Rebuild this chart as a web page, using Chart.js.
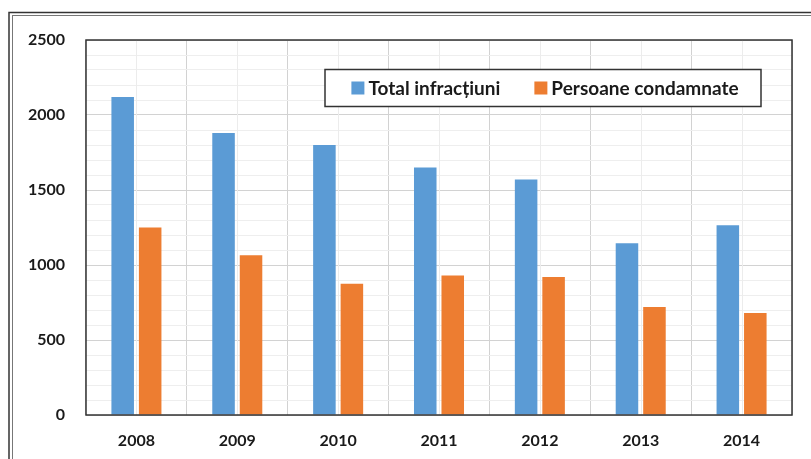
<!DOCTYPE html>
<html>
<head>
<meta charset="utf-8">
<script src="https://cdn.jsdelivr.net/npm/chart.js@4.4.0/dist/chart.umd.min.js"></script>
<style>
  body { margin: 0; background: #fff; }
  #wrap { width: 811px; height: 459px; }
</style>
</head>
<body>
<div id="wrap"><canvas id="myChart" width="811" height="459"></canvas></div>
<script>
var years = ['2008', '2009', '2010', '2011', '2012', '2013', '2014'];
var totalInfractiuni = [2120, 1880, 1800, 1650, 1570, 1145, 1265];
var persoaneCondamnate = [1250, 1065, 875, 930, 920, 720, 680];
var yTicks = [0, 500, 1000, 1500, 2000, 2500];

var FONT = 'Lato, "Open Sans", sans-serif';

// frame, centre lines, plot border and boxed legend
var decor = {
  id: 'decor',
  beforeDatasetsDraw: function (chart) {
    var ctx = chart.ctx, a = chart.chartArea, x = chart.scales.x;
    ctx.save();
    ctx.strokeStyle = '#ececec';
    ctx.lineWidth = 1;
    for (var i = 0; i < years.length; i++) {
      var px = Math.round(x.getPixelForValue(i)) + 0.5;
      ctx.beginPath();
      ctx.moveTo(px, a.top);
      ctx.lineTo(px, a.bottom);
      ctx.stroke();
    }
    ctx.restore();
  },
  afterDraw: function (chart) {
    var ctx = chart.ctx, a = chart.chartArea;
    ctx.save();
    // plot area border
    ctx.strokeStyle = '#333';
    ctx.lineWidth = 1.5;
    ctx.strokeRect(a.left, a.top, a.right - a.left, a.bottom - a.top);

    // outer double frame
    ctx.lineWidth = 1.5;
    ctx.strokeStyle = '#333';
    ctx.strokeRect(9, 12.5, 900, 600);
    ctx.lineWidth = 1;
    ctx.strokeStyle = '#777';
    ctx.strokeRect(12.5, 15.5, 900, 600);

    // legend box
    var bx = 325, by = 69.5, bw = 436, bh = 37;
    ctx.fillStyle = '#fff';
    ctx.fillRect(bx, by, bw, bh);
    ctx.strokeStyle = '#333';
    ctx.lineWidth = 1.5;
    ctx.strokeRect(bx, by, bw, bh);

    ctx.font = 'bold 19px ' + FONT;
    ctx.textBaseline = 'middle';
    var sets = chart.data.datasets;
    var sq = 13, gap = 4, spacing = 34;
    var widths = sets.map(function (d) { return ctx.measureText(d.label).width; });
    var total = sq * 2 + gap * 2 + widths[0] + widths[1] + spacing;
    var cx = bx + bw / 2 + 2 - total / 2;
    var cy = by + bh / 2;
    sets.forEach(function (d, i) {
      ctx.fillStyle = d.backgroundColor;
      ctx.fillRect(cx, cy - sq / 2, sq, sq);
      ctx.fillStyle = '#1a1a1a';
      ctx.fillText(d.label, cx + sq + gap, cy + 1);
      cx += sq + gap + widths[i] + spacing;
    });
    ctx.restore();
  }
};

var ctx = document.getElementById('myChart').getContext('2d');
var myChart = new Chart(ctx, {
  type: 'bar',
  data: {
    labels: years,
    datasets: [{
      label: 'Total infracțiuni',
      data: totalInfractiuni,
      backgroundColor: '#5B9BD5',
      categoryPercentage: 0.545,
      barPercentage: 0.82
    }, {
      label: 'Persoane condamnate',
      data: persoaneCondamnate,
      backgroundColor: '#ED7D31',
      categoryPercentage: 0.545,
      barPercentage: 0.82
    }]
  },
  options: {
    responsive: false,
    animation: false,
    layout: { padding: { left: 0, top: 40, right: 19, bottom: 0 } },
    plugins: {
      legend: { display: false },
      tooltip: { enabled: false }
    },
    scales: {
      x: {
        grid: { offset: true, color: '#d2d2d2', drawTicks: false },
        border: { display: false },
        ticks: {
          padding: 16,
          color: '#1a1a1a',
          font: { family: FONT, size: 16, weight: 'bold' }
        },
        afterFit: function (s) { s.height = 44; }
      },
      y: {
        min: 0,
        max: 2500,
        grid: {
          drawTicks: false,
          color: function (c) { return yTicks.indexOf(c.tick.value) >= 0 ? '#d2d2d2' : '#eeeeee'; }
        },
        border: { display: false },
        ticks: {
          stepSize: 100,
          autoSkip: false,
          padding: 21,
          color: '#1a1a1a',
          font: { family: FONT, size: 16, weight: 'bold' },
          callback: function (v) { return yTicks.indexOf(v) >= 0 ? v : ''; }
        },
        afterFit: function (s) { s.width = 86; }
      }
    }
  },
  plugins: [decor]
});
</script>
</body>
</html>
